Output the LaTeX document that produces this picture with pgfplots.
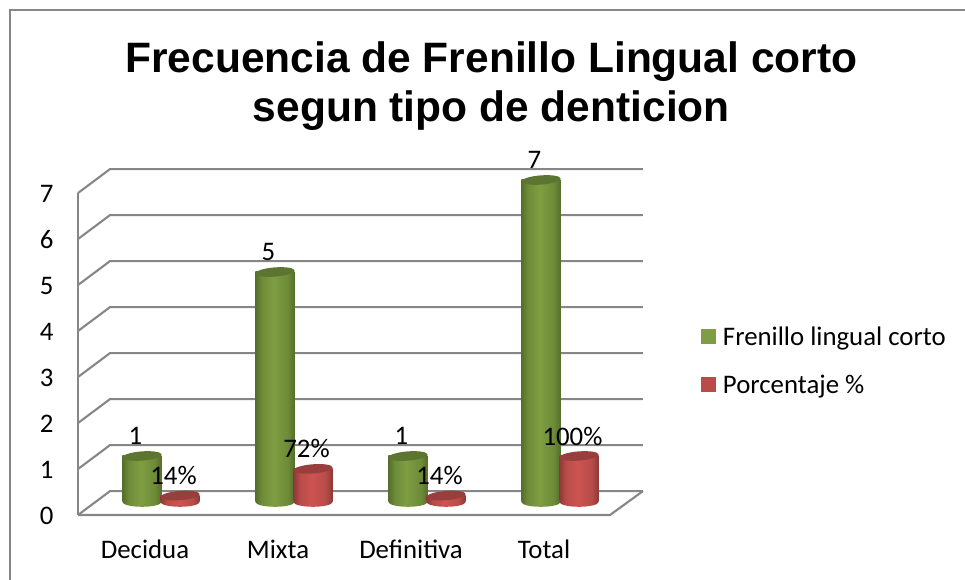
\documentclass[border=0pt]{standalone}
\usepackage{fontspec}
\setmainfont{Carlito}
\newfontfamily\titlefont{Liberation Sans}
\usepackage{pgfplots}
\usepackage{pgfplotstable}
\pgfplotsset{compat=1.18}

\definecolor{wall}{HTML}{868686}
\definecolor{gdark}{HTML}{566F2B}
\definecolor{gmid}{HTML}{6E8C38}
\definecolor{glight}{HTML}{7F9D42}
\definecolor{gtop}{HTML}{5C7530}
\definecolor{rdark}{HTML}{8E3836}
\definecolor{rmid}{HTML}{B84C49}
\definecolor{rlight}{HTML}{CC5451}
\definecolor{rtop}{HTML}{983F3D}

\pgfdeclarehorizontalshading{gcyl}{100bp}{color(0bp)=(gdark); color(25bp)=(gdark); color(33bp)=(gmid); color(48bp)=(glight); color(66bp)=(gmid); color(75bp)=(gdark); color(100bp)=(gdark)}
\pgfdeclarehorizontalshading{rcyl}{100bp}{color(0bp)=(rdark); color(25bp)=(rdark); color(33bp)=(rmid); color(48bp)=(rlight); color(66bp)=(rmid); color(75bp)=(rdark); color(100bp)=(rdark)}

\pgfdeclareplotmark{cyltop}{%
  \pgfpathellipse{\pgfpointorigin}{\pgfqpoint{19.6pt}{1.5pt}}{\pgfqpoint{-0.3pt}{4.6pt}}%
  \pgfusepathqfill}
\pgfdeclareplotmark{gbase}{\path[draw=none,shade,shading=gcyl] (0pt,0pt) ellipse [x radius=19.5pt,y radius=4.8pt];}
\pgfdeclareplotmark{rbase}{\path[draw=none,shade,shading=rcyl] (0pt,0pt) ellipse [x radius=19.5pt,y radius=4.8pt];}

% x = category index shifted by half a group, y = value
\pgfplotstableread{
x      y    base lab
-0.143 1    0    1
0.857  5    0    5
1.857  1    0    1
2.857  7    0    7
}\frenillo
\pgfplotstableread{
x      y    base lab
0.143  0.14 0    14\%
1.143  0.72 0    72\%
2.143  0.14 0    14\%
3.143  1    0    100\%
}\porcentaje

\begin{document}
\begin{tikzpicture}
\useasboundingbox (0,0) rectangle (965pt,580pt);
\draw[wall,line width=2pt] (10pt,-5pt) -- (10pt,570pt) -- (970pt,570pt);

\begin{axis}[
    at={(78pt,65pt)}, anchor=south west,
    scale only axis, width=532pt, height=322pt,
    xmin=-0.624, xmax=3.376, ymin=0, ymax=7,
    clip=false,
    axis line style={draw=none},
    tick style={draw=none},
    xtick={0,1,2,3},
    xticklabels={Decidua,Mixta,Definitiva,Total},
    ytick={0,1,2,3,4,5,6,7},
    xticklabel style={xshift=-16pt, yshift=-22pt, text height=18pt, text depth=6pt},
    yticklabel style={xshift=-21pt, yshift=-1pt},
    ticklabel style={font=\fontsize{26.8}{30}\selectfont},
    /pgf/number format/assume math mode=true,
    title={Frecuencia de Frenillo Lingual corto\\segun tipo de denticion},
    title style={at={(0.777,1.0)}, anchor=center, yshift=101pt, align=center,
        font=\titlefont\bfseries\fontsize{42.5}{49}\selectfont},
    wl/.style={wall, line width=2.1pt},
]
\addplot[wl] coordinates {(-0.624,0) (-0.624,7)};
\addplot[wl] coordinates {(-0.624,0) (3.376,0) (3.624,0.52)};
\addplot[wl] coordinates {(-0.624,0) (-0.383,0.52) (3.624,0.52)};
\addplot[wl] coordinates {(-0.624,1) (-0.383,1.52) (3.624,1.52)};
\addplot[wl] coordinates {(-0.624,2) (-0.383,2.52) (3.624,2.52)};
\addplot[wl] coordinates {(-0.624,3) (-0.383,3.52) (3.624,3.52)};
\addplot[wl] coordinates {(-0.624,4) (-0.383,4.52) (3.624,4.52)};
\addplot[wl] coordinates {(-0.624,5) (-0.383,5.52) (3.624,5.52)};
\addplot[wl] coordinates {(-0.624,6) (-0.383,6.52) (3.624,6.52)};
\addplot[wl] coordinates {(-0.624,7) (-0.383,7.52) (3.624,7.52)};
\end{axis}

\begin{axis}[
    at={(78pt,78pt)}, anchor=south west,
    scale only axis, width=532pt, height=322pt,
    xmin=-0.624, xmax=3.376, ymin=0, ymax=7,
    clip=false,
    hide axis,
    legend style={draw=none, fill=none, at={(1.165,0.558)}, anchor=north west,
        font=\fontsize{26.8}{30}\selectfont, row sep=24pt,
        /tikz/every odd column/.append style={column sep=5pt}},
    legend cell align=left,
    legend image code/.code={\fill[#1] (0pt,-7.5pt) rectangle (15pt,7.5pt);},
    lab/.style={only marks, point meta=explicit symbolic,
        nodes near coords, nodes near coords style={anchor=center, xshift=-6.5pt, yshift=20pt,
        font=\fontsize{26.8}{30}\selectfont, text=black}},
    cyl/.style={forget plot, ybar, bar width=39pt, bar shift=0pt, draw=none, shade},
]
\addlegendimage{fill=glight, draw=none}
\addlegendentry{Frenillo lingual corto}
\addlegendimage{fill=rmid, draw=none}
\addlegendentry{Porcentaje \%}

\addplot[forget plot, only marks, mark=gbase] table[x=x,y=base] {\frenillo};
\addplot[cyl, shading=gcyl] coordinates {(-0.143,1)};
\addplot[cyl, shading=gcyl] coordinates {(0.857,5)};
\addplot[cyl, shading=gcyl] coordinates {(1.857,1)};
\addplot[cyl, shading=gcyl] coordinates {(2.857,7)};
\addplot[forget plot, lab, mark=cyltop, mark options={fill=gtop, draw=none}] table[x=x,y=y,meta=lab] {\frenillo};

\addplot[forget plot, only marks, mark=rbase] table[x=x,y=base] {\porcentaje};
\addplot[cyl, shading=rcyl] coordinates {(0.143,0.14)};
\addplot[cyl, shading=rcyl] coordinates {(1.143,0.72)};
\addplot[cyl, shading=rcyl] coordinates {(2.143,0.14)};
\addplot[cyl, shading=rcyl] coordinates {(3.143,1)};
\addplot[forget plot, lab, mark=cyltop, mark options={fill=rtop, draw=none}] table[x=x,y=y,meta=lab] {\porcentaje};
\end{axis}
\end{tikzpicture}
\end{document}
